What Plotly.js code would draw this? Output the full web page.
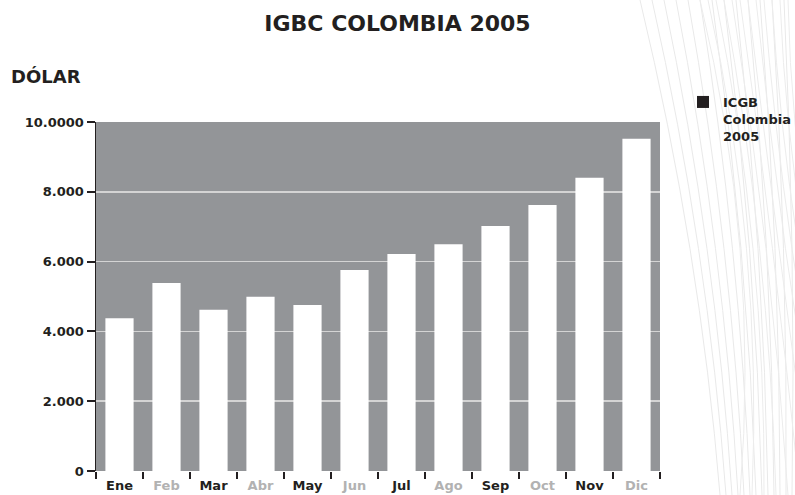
<!DOCTYPE html>
<html>
<head>
<meta charset="utf-8">
<script src="https://cdn.plot.ly/plotly-3.0.1.min.js"></script>
<style>html,body{margin:0;padding:0;background:#fff;}#chart{width:795px;height:495px;}</style>
</head>
<body>
<div id="chart"></div>
<script>
// ---- data ----
const months = ["Ene","Feb","Mar","Abr","May","Jun","Jul","Ago","Sep","Oct","Nov","Dic"];
const igbcValues = [4380, 5390, 4620, 4990, 4760, 5760, 6220, 6500, 7020, 7620, 8400, 9520];
const yTickVals = [0, 2000, 4000, 6000, 8000, 10000];
const yTickText = ["0", "2.000", "4.000", "6.000", "8.000", "10.0000"];
const seriesName = "ICGB<br>Colombia<br>2005";
const chartTitle = "IGBC COLOMBIA 2005";
const yLabel = "DÓLAR";

// alternate label colours (black / light grey)
const xTickText = months.map((m, i) =>
  i % 2 === 0 ? m : '<span style="color:#b2b2b2">' + m + '</span>');

// ---- geometry helpers for decorative background (pixel -> paper) ----
const L = 96, R = 135, T = 122, B = 24, W = 795, H = 495;
const pw = W - L - R, ph = H - T - B;
const fx = x => (x - L) / pw;
const fy = y => (H - B - y) / ph;

const deco = [];
for (let i = 0; i < 14; i++) {
  const x0 = 640 + i * 12, x1 = 720 + i * 6;
  const cx = 700 + i * 8;
  deco.push({type:'path', xref:'paper', yref:'paper', layer:'below',
    path:`M${fx(x0)},${fy(0)} Q${fx(cx)},${fy(250)} ${fx(x1)},${fy(495)}`,
    line:{color:'#e9e9e9', width:1}});
}
for (let i = 0; i < 14; i++) {
  const x0 = 700 + i * 8, x1 = 650 + i * 12;
  const cx = 760 + i * 3;
  deco.push({type:'path', xref:'paper', yref:'paper', layer:'below',
    path:`M${fx(x0)},${fy(0)} Q${fx(cx)},${fy(250)} ${fx(x1 + 90)},${fy(495)}`,
    line:{color:'#ececec', width:1}});
}

const traces = [
  {type:'bar', x: months, y: igbcValues, name: seriesName, showlegend:false,
   marker:{color:'#ffffff', line:{width:0}}},
  {type:'bar', x:[months[0]], y:[null], name: seriesName, showlegend:true,
   marker:{color:'#231f20'}}
];

const FONT = '"DejaVu Sans", Verdana, sans-serif';

const layout = {
  width: W, height: H,
  margin:{l:L, r:R, t:T, b:B, pad:0, autoexpand:false},
  paper_bgcolor:'#ffffff',
  plot_bgcolor:'#939598',
  font:{family:FONT, color:'#231f20', size:13, weight:'bold'},
  title:{text:'<b>' + chartTitle + '</b>', font:{family:FONT, size:22, color:'#231f20'},
         xref:'container', x:0.5, xanchor:'center', yref:'container', y:1 - 23/495, yanchor:'middle'},
  bargap:0.4,
  barmode:'overlay',
  showlegend:true,
  legend:{x: fx(683), y: fy(87), xanchor:'left', yanchor:'top', valign:'top',
          bgcolor:'rgba(0,0,0,0)', font:{family:FONT, size:13, color:'#231f20', weight:'bold'},
          itemwidth:30, tracegroupgap:0},
  xaxis:{type:'category', tickmode:'array', tickvals: months, ticktext: xTickText,
         tickson:'boundaries', ticks:'outside', ticklen:7, tickwidth:2, tickcolor:'#231f20',
         ticklabelstandoff:5,
         showline:false, showgrid:false, zeroline:false, fixedrange:true,
         tickfont:{family:FONT, size:13, color:'#231f20', weight:'bold'}},
  yaxis:{range:[0, 10000], tickmode:'array', tickvals: yTickVals, ticktext: yTickText,
         ticks:'outside', ticklen:8, tickwidth:2, tickcolor:'#231f20',
         showline:true, linecolor:'#231f20', linewidth:1.5,
         showgrid:true, gridcolor:'#d4d4d4', gridwidth:1.5, zeroline:false,
         tickfont:{family:FONT, size:13, color:'#231f20', weight:'bold'}, fixedrange:true},
  annotations:[
    {text:'<b>' + yLabel + '</b>', xref:'paper', yref:'paper', x: fx(9), y: fy(76),
     xanchor:'left', yanchor:'middle', showarrow:false, font:{family:FONT, size:18, color:'#231f20'}}
  ],
  shapes: deco
};

Plotly.newPlot('chart', traces, layout, {displayModeBar:false, staticPlot:true});
</script>
</body>
</html>
